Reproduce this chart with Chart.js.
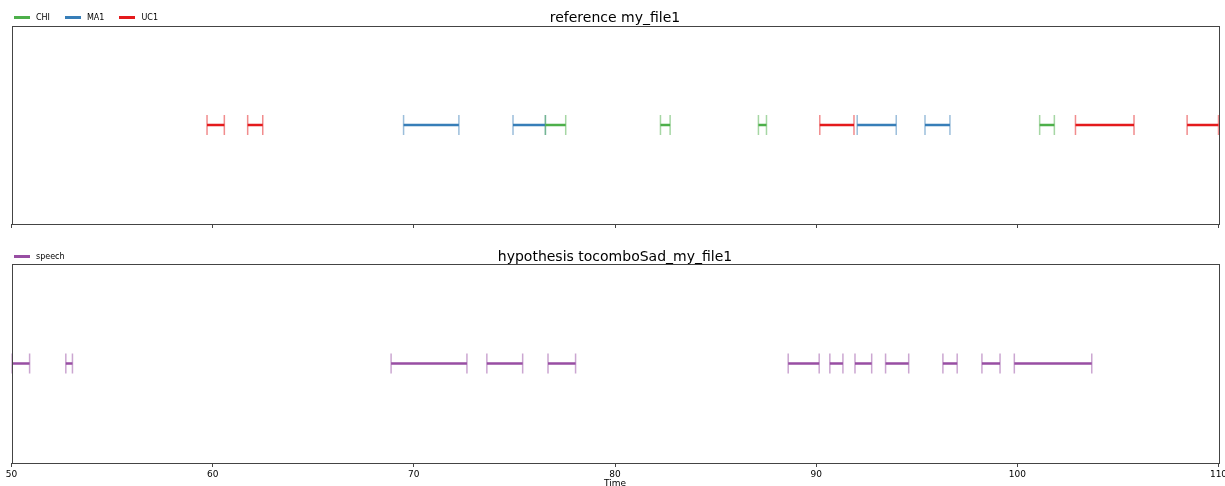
<!DOCTYPE html>
<html>
<head>
<meta charset="utf-8">
<script src="https://cdn.jsdelivr.net/npm/chart.js@4.4.1/dist/chart.umd.min.js"></script>
<style>
  html, body { margin: 0; padding: 0; background: #fff; overflow: hidden; }
  body { width: 1225px; height: 486px; position: relative; font-family: "DejaVu Sans", sans-serif; }
  .wrap { position: absolute; left: 0; width: 1245px; }
  .title { position: absolute; left: 0; width: 1230px; text-align: center; font-size: 14px; color: #000; }
  .legend { position: absolute; left: 14px; font-size: 8px; color: #000; display: flex; align-items: center; }
  .legend span.sw { display: inline-block; width: 16px; height: 2.5px; margin-right: 6px; }
  .legend span.lb { margin-right: 15px; }
</style>
</head>
<body>
<div class="wrap" style="top:0;height:240px"><canvas id="top"></canvas></div>
<div class="wrap" style="top:240px;height:249px"><canvas id="bottom"></canvas></div>
<div class="title" style="top:9px">reference my_file1</div>
<div class="title" style="top:248px">hypothesis tocomboSad_my_file1</div>
<div class="legend" id="legTop" style="top:13px"></div>
<div class="legend" id="legBottom" style="top:252px"></div>
<script>
// segments (seconds)
const chiStart = [76.54, 82.26, 87.13, 101.11];
const chiEnd   = [77.55, 82.74, 87.53, 101.84];
const ma1Start = [69.49, 74.93, 92.04, 95.41];
const ma1End   = [72.24, 76.54, 93.98, 96.65];
const uc1Start = [59.72, 61.74, 90.18, 102.89, 108.44];
const uc1End   = [60.58, 62.49, 91.88, 105.80, 110.0];
const speechStart = [50.03, 52.70, 68.87, 73.63, 76.67, 88.61, 90.68, 91.93, 93.45, 96.30, 98.24, 99.85];
const speechEnd   = [50.90, 53.03, 72.64, 75.41, 78.04, 90.15, 91.33, 92.76, 94.60, 97.01, 99.14, 103.70];
const xTicks = [50, 60, 70, 80, 90, 100, 110];

const topSeries = [
  { label: "CHI", color: "77,175,74", start: chiStart, end: chiEnd },
  { label: "MA1", color: "55,126,184", start: ma1Start, end: ma1End },
  { label: "UC1", color: "228,26,28", start: uc1Start, end: uc1End },
];
const bottomSeries = [
  { label: "speech", color: "152,78,163", start: speechStart, end: speechEnd },
];

// turn start/end lists into line points with gaps between segments
function segData(start, end) {
  const pts = [];
  for (let i = 0; i < start.length; i++) {
    pts.push({ x: start[i], y: 0 }, { x: end[i], y: 0 }, { x: end[i], y: null });
  }
  return pts;
}

function makeDatasets(series) {
  return series.map((s) => ({
    label: s.label,
    data: segData(s.start, s.end),
    borderColor: "rgb(" + s.color + ")",
    borderWidth: 2.5,
    pointStyle: "line",
    rotation: 90,
    pointRadius: 10,
    pointHoverRadius: 10,
    pointBorderWidth: 1.5,
    pointBorderColor: "rgba(" + s.color + ",0.5)",
    pointBackgroundColor: "rgba(" + s.color + ",0.5)",
    spanGaps: false,
    clip: 2,
  }));
}

// frame around the plotting area like matplotlib spines
const frame = {
  id: "frame",
  afterDraw(chart) {
    const { ctx, chartArea: a } = chart;
    ctx.save();
    ctx.strokeStyle = "#444";
    ctx.lineWidth = 1;
    ctx.strokeRect(Math.round(a.left) + 0.5, Math.round(a.top) + 0.5,
      Math.round(a.right - a.left), Math.round(a.bottom - a.top));
    ctx.restore();
  },
};

function makeChart(id, series, showLabels, axisHeight, pad) {
  return new Chart(document.getElementById(id), {
    type: "line",
    data: { datasets: makeDatasets(series) },
    plugins: [frame],
    options: {
      responsive: true,
      maintainAspectRatio: false,
      animation: false,
      events: [],
      layout: { padding: pad },
      plugins: { legend: { display: false }, tooltip: { enabled: false } },
      scales: {
        x: {
          type: "linear",
          min: 50,
          max: 110,
          afterBuildTicks: (s) => { s.ticks = xTicks.map((v) => ({ value: v })); },
          afterFit: (s) => { s.height = axisHeight; },
          border: { display: false },
          grid: { drawOnChartArea: false, drawTicks: true, tickLength: 4, color: "#444", tickWidth: 1 },
          ticks: {
            display: showLabels,
            color: "#000",
            padding: 2,
            maxRotation: 0,
            font: { family: "DejaVu Sans", size: 9 },
          },
          title: {
            display: showLabels,
            text: "Time",
            color: "#000",
            padding: { top: 0, bottom: 0 },
            font: { family: "DejaVu Sans", size: 9 },
          },
        },
        y: { display: false, min: -1, max: 1 },
      },
    },
  });
}

makeChart("top", topSeries, false, 8, { left: 10.5, right: 26.5, top: 26, bottom: 8 });
makeChart("bottom", bottomSeries, true, 26, { left: 10.5, right: 26.5, top: 24, bottom: 0 });

function legend(id, series) {
  const el = document.getElementById(id);
  series.forEach((s) => {
    const sw = document.createElement("span");
    sw.className = "sw";
    sw.style.background = "rgb(" + s.color + ")";
    const lb = document.createElement("span");
    lb.className = "lb";
    lb.textContent = s.label;
    el.appendChild(sw);
    el.appendChild(lb);
  });
}
legend("legTop", topSeries);
legend("legBottom", bottomSeries);
</script>
</body>
</html>
